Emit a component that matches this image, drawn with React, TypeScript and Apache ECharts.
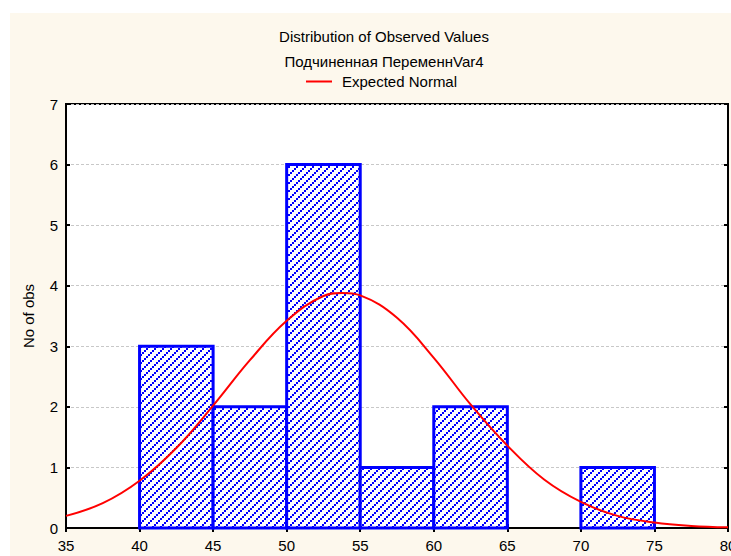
import React, { useEffect, useRef } from "react";
import * as echarts from "echarts";

const binStarts = [40, 45, 50, 55, 60, 65, 70];
const binEnds = [45, 50, 55, 60, 65, 70, 75];
const binCounts = [3, 2, 6, 1, 2, 0, 1];

const curveX = [35, 37.5, 40, 42.5, 45, 47.5, 50, 52.5, 53.8, 55, 57.5, 60, 62.5, 65, 67.5, 70, 72.5, 75, 77.5, 80];
const curveY = [0.2, 0.41, 0.78, 1.32, 2.02, 2.77, 3.42, 3.83, 3.88, 3.84, 3.47, 2.81, 2.04, 1.36, 0.8, 0.43, 0.2, 0.09, 0.035, 0.012];

const titleText = "Distribution of Observed Values";
const subtitleText = "Подчиненная ПеременнVar4";
const legendName = "Expected Normal";
const yAxisName = "No of obs";

const FONT = "'Liberation Sans', Arial, sans-serif";

export default function App() {
  const ref = useRef<HTMLDivElement>(null);

  useEffect(() => {
    if (!ref.current) return;
    const chart = echarts.init(ref.current, undefined, { renderer: "svg" });

    const T = 8;
    const cv = document.createElement("canvas");
    cv.width = T;
    cv.height = T;
    const ctx = cv.getContext("2d")!;
    ctx.fillStyle = "#ffffff";
    ctx.fillRect(0, 0, T, T);
    ctx.fillStyle = "#0000ff";
    ctx.fillRect(0, 6, 2, 2);
    ctx.fillRect(2, 4, 2, 2);
    ctx.fillRect(4, 2, 2, 2);
    ctx.fillRect(6, 0, 2, 2);
    const pattern = { image: cv, repeat: "repeat" };

    const histData = binStarts.map((s, i) => [s, binEnds[i], binCounts[i]]);
    const lineData = curveX.map((x, i) => [x, curveY[i]]);

    chart.setOption({
      animation: false,
      backgroundColor: "transparent",
      textStyle: { fontFamily: FONT },
      graphic: [
        {
          type: "text",
          x: 384,
          y: 36,
          style: {
            text: titleText,
            textAlign: "center",
            textVerticalAlign: "middle",
            font: `15px ${FONT}`,
            fill: "#000",
          },
        },
        {
          type: "text",
          x: 384,
          y: 61,
          style: {
            text: subtitleText,
            textAlign: "center",
            textVerticalAlign: "middle",
            font: `15px ${FONT}`,
            fill: "#000",
          },
        },
      ],
      legend: {
        left: 306,
        top: 74,
        padding: 0,
        itemWidth: 26,
        itemHeight: 2,
        data: [{ name: legendName, icon: "rect" }],
        textStyle: { fontSize: 15, color: "#000", fontFamily: FONT, padding: [0, 0, 0, 5] },
      },
      grid: {
        left: 66,
        top: 104,
        right: 3,
        bottom: 28,
        outerBoundsMode: "none",
        containLabel: false,
        show: true,
        backgroundColor: "#ffffff",
        borderColor: "#000",
        borderWidth: 2,
      },
      xAxis: [
        {
          type: "value",
          min: 35,
          max: 80,
          interval: 5,
          axisLine: { show: true, onZero: false, lineStyle: { color: "#000", width: 2 } },
          axisTick: { show: true, inside: true, length: 4, lineStyle: { color: "#000", width: 2 } },
          axisLabel: { color: "#000", fontSize: 15, margin: 10, fontFamily: FONT, hideOverlap: false },
          splitLine: { show: false },
        },
        {
          type: "value",
          position: "top",
          min: 35,
          max: 80,
          interval: 5,
          axisLine: { show: false },
          axisTick: { show: true, inside: true, length: 4, lineStyle: { color: "#000", width: 2 } },
          axisLabel: { show: false },
          splitLine: { show: false },
        },
      ],
      yAxis: [
        {
          type: "value",
          min: 0,
          max: 7,
          interval: 1,
          name: yAxisName,
          nameLocation: "middle",
          nameGap: 30,
          nameTextStyle: { color: "#000", fontSize: 15, fontFamily: FONT },
          axisLine: { show: true, onZero: false, lineStyle: { color: "#000", width: 2 } },
          axisTick: { show: true, inside: true, length: 4, lineStyle: { color: "#000", width: 2 } },
          axisLabel: { color: "#000", fontSize: 15, margin: 8, fontFamily: FONT },
          splitLine: { show: true, lineStyle: { color: "#c8c8c8", type: [3, 2], width: 1 } },
        },
        {
          type: "value",
          position: "right",
          min: 0,
          max: 7,
          interval: 1,
          axisLine: { show: false },
          axisTick: { show: true, inside: true, length: 4, lineStyle: { color: "#000", width: 2 } },
          axisLabel: { show: false },
          splitLine: { show: false },
        },
      ],
      series: [
        {
          type: "custom",
          name: "hist",
          xAxisIndex: 0,
          yAxisIndex: 0,
          encode: { x: [0, 1], y: 2 },
          data: histData,
          z: 2,
          renderItem: (params: any, api: any) => {
            const cnt = api.value(2);
            if (!cnt) return null;
            const a = api.coord([api.value(0), cnt]);
            const b = api.coord([api.value(1), 0]);
            return {
              type: "rect",
              shape: { x: a[0], y: a[1], width: b[0] - a[0], height: b[1] - a[1] },
              style: { fill: pattern, stroke: "#0000ff", lineWidth: 3 },
            };
          },
        },
        {
          type: "line",
          name: legendName,
          xAxisIndex: 0,
          yAxisIndex: 0,
          data: lineData,
          smooth: 0.4,
          symbol: "none",
          z: 5,
          lineStyle: { color: "#ff0000", width: 2 },
          itemStyle: { color: "#ff0000" },
        },
      ],
    });

    return () => chart.dispose();
  }, []);

  return (
    <div style={{ position: "fixed", left: 0, top: 0, width: 731, height: 556, background: "#ffffff" }}>
      <div style={{ position: "absolute", left: 10, top: 13, right: 0, bottom: 0, background: "#fdf8ed" }} />
      <div ref={ref} style={{ position: "absolute", left: 0, top: 0, width: 731, height: 556 }} />
    </div>
  );
}
